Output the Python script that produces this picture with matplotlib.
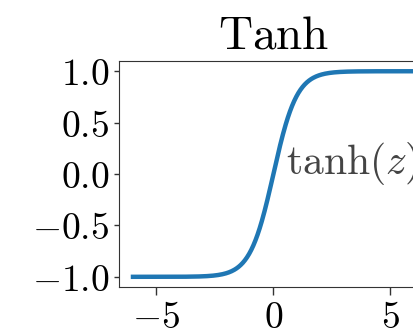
import numpy as np
import matplotlib
matplotlib.use('Agg')
import matplotlib.pyplot as plt
from matplotlib.ticker import FuncFormatter

# Data
z = np.linspace(-6, 6, 400)
x_ticks = [-5, 0, 5]
y_ticks = [-1.0, -0.5, 0.0, 0.5, 1.0]
title = 'Tanh'
label = r'$\tanh(z)$'

plt.rcParams['mathtext.fontset'] = 'cm'

fig = plt.figure(figsize=(4.13, 3.35), dpi=100)
ax = fig.add_axes([0.288, 0.143, 0.748, 0.675])

ax.plot(z, np.tanh(z), color='#1f77b4', linewidth=3.2)
ax.text(0.55, 0.0, label, fontsize=30, color='#444444')

ax.set_title(r'$\mathrm{%s}$' % title, fontsize=34, pad=9)
ax.set_xticks(x_ticks)
ax.set_yticks(y_ticks)
ax.xaxis.set_major_formatter(FuncFormatter(lambda v, p: r'$%d$' % v))
ax.yaxis.set_major_formatter(FuncFormatter(lambda v, p: r'$%.1f$' % v))
ax.tick_params(labelsize=27, width=1, color='#333333')
ax.tick_params(axis='x', length=6)
for s in ax.spines.values():
    s.set_color('#333333')

fig.savefig('out.png', dpi=100)
